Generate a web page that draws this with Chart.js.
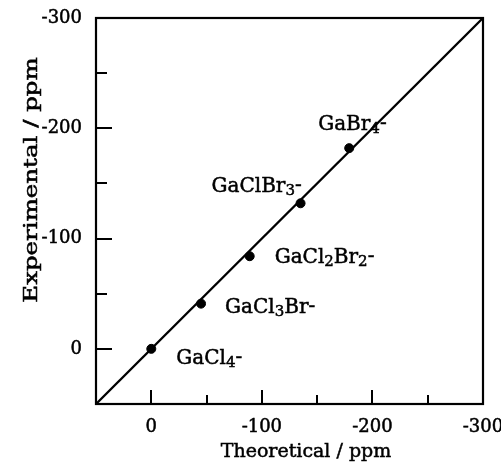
<!DOCTYPE html>
<html>
<head>
<meta charset="UTF-8">
<title>Experimental vs theoretical shifts</title>
<script src="https://cdn.jsdelivr.net/npm/chart.js"></script>
<style>
    html, body { margin: 0; padding: 0; background: #fff; }
    .chart-box { width: 501px; height: 472px; position: relative; }
</style>
</head>
<body>
<div class="chart-box">
    <canvas id="shiftChart"></canvas>
</div>
<script>
// data
const compounds = ['GaCl4-', 'GaCl3Br-', 'GaCl2Br2-', 'GaClBr3-', 'GaBr4-'];
const theoretical = [0, -45, -89, -135, -179];
const experimental = [0, -41, -84, -132, -182];

// the y = x line across the whole frame
const lineX = [50, -300];
const lineY = [50, -300];

// axis ticks (labelled ones and the unlabelled ones between)
const majorTicks = [0, -100, -200, -300];
const minorTicks = [-50, -150, -250];
const axisMin = -300;
const axisMax = 50;

// pixel offsets of the compound labels from their points
const labelOffsets = [[25, 15], [24, 9], [25, 7], [-89, -11], [-31, -18]];

const SERIF = "'DejaVu Serif', 'Liberation Serif', serif";
const INK = '#000';

function buildTicks(scale) {
    const vals = majorTicks.concat(minorTicks).sort((a, b) => b - a);
    scale.ticks = vals.map(v => ({ value: v }));
}

function tickLabel(value) {
    return majorTicks.includes(value) ? String(value) : '';
}

function fixFit(scale, size) {
    if (scale.isHorizontal()) scale.height = size; else scale.width = size;
    scale.paddingLeft = 0;
    scale.paddingRight = 0;
    scale.paddingTop = 0;
    scale.paddingBottom = 0;
}

// fill + thin stroke, the printed figure has heavy type
function inkText(ctx, s, x, y) {
    ctx.fillText(s, x, y);
    ctx.strokeText(s, x, y);
}

// draw "GaCl3Br-" with lowered digits
function drawFormula(ctx, text, x, y) {
    ctx.textBaseline = 'alphabetic';
    ctx.textAlign = 'left';
    for (const ch of text) {
        if (/\d/.test(ch)) {
            ctx.font = '15px ' + SERIF;
            inkText(ctx, ch, x, y + 3);
        } else {
            ctx.font = '20px ' + SERIF;
            inkText(ctx, ch, x, y - (ch === '-' ? 1 : 0));
        }
        x += ctx.measureText(ch).width;
    }
}

const framePlugin = {
    id: 'frame',
    afterDraw(chart) {
        const ctx = chart.ctx;
        const a = chart.chartArea;
        const xs = chart.scales.x;
        const ys = chart.scales.y;
        ctx.save();
        ctx.strokeStyle = INK;
        ctx.fillStyle = INK;

        // box
        ctx.lineWidth = 2.2;
        ctx.strokeRect(a.left, a.top, a.right - a.left, a.bottom - a.top);

        // inward ticks
        ctx.lineWidth = 2;
        ctx.beginPath();
        xs.ticks.forEach(t => {
            const px = Math.round(xs.getPixelForValue(t.value));
            const len = majorTicks.includes(t.value) ? 14 : 9;
            ctx.moveTo(px, a.bottom);
            ctx.lineTo(px, a.bottom - len);
        });
        ys.ticks.forEach(t => {
            const py = Math.round(ys.getPixelForValue(t.value));
            const len = majorTicks.includes(t.value) ? 16 : 11;
            ctx.moveTo(a.left, py);
            ctx.lineTo(a.left + len, py);
        });
        ctx.stroke();

        // compound labels
        ctx.lineWidth = 0.5;
        const pts = chart.getDatasetMeta(0).data;
        compounds.forEach((name, i) => {
            const p = pts[i];
            drawFormula(ctx, name, p.x + labelOffsets[i][0], p.y + labelOffsets[i][1]);
        });

        // axis titles
        ctx.textAlign = 'center';
        ctx.textBaseline = 'alphabetic';
        ctx.font = '19px ' + SERIF;
        inkText(ctx, 'Theoretical / ppm', 306, 457);

        ctx.save();
        ctx.translate(37, 180);
        ctx.rotate(-Math.PI / 2);
        ctx.scale(1.36, 1);
        ctx.font = '18px ' + SERIF;
        inkText(ctx, 'Experimental / ppm', 0, 0);
        ctx.restore();

        ctx.restore();
    }
};

const tickFont = { family: SERIF, size: 18 };

const ctx = document.getElementById('shiftChart').getContext('2d');
new Chart(ctx, {
    type: 'scatter',
    data: {
        datasets: [
            {
                label: 'compounds',
                data: theoretical.map((v, i) => ({ x: v, y: experimental[i] })),
                backgroundColor: INK,
                borderColor: INK,
                pointRadius: 4.5,
                pointHoverRadius: 4.5
            },
            {
                label: 'y = x',
                data: lineX.map((v, i) => ({ x: v, y: lineY[i] })),
                showLine: true,
                borderColor: INK,
                borderWidth: 2.4,
                pointRadius: 0,
                clip: false
            }
        ]
    },
    options: {
        responsive: true,
        maintainAspectRatio: false,
        animation: false,
        events: [],
        layout: { padding: { top: 18, right: 18, left: 0, bottom: 0 } },
        plugins: {
            legend: { display: false },
            tooltip: { enabled: false }
        },
        scales: {
            x: {
                type: 'linear',
                min: axisMin,
                max: axisMax,
                reverse: true,
                afterBuildTicks: buildTicks,
                afterFit: s => fixFit(s, 68),
                grid: { display: false, drawTicks: false },
                border: { display: false },
                ticks: {
                    autoSkip: false,
                    maxRotation: 0,
                    padding: 13,
                    color: INK,
                    textStrokeColor: INK,
                    textStrokeWidth: 0.5,
                    font: tickFont,
                    callback: tickLabel
                }
            },
            y: {
                type: 'linear',
                min: axisMin,
                max: axisMax,
                reverse: true,
                afterBuildTicks: buildTicks,
                afterFit: s => fixFit(s, 96),
                grid: { display: false, drawTicks: false },
                border: { display: false },
                ticks: {
                    autoSkip: false,
                    padding: 14,
                    color: INK,
                    textStrokeColor: INK,
                    textStrokeWidth: 0.5,
                    font: tickFont,
                    callback: tickLabel
                }
            }
        }
    },
    plugins: [framePlugin]
});
</script>
</body>
</html>
